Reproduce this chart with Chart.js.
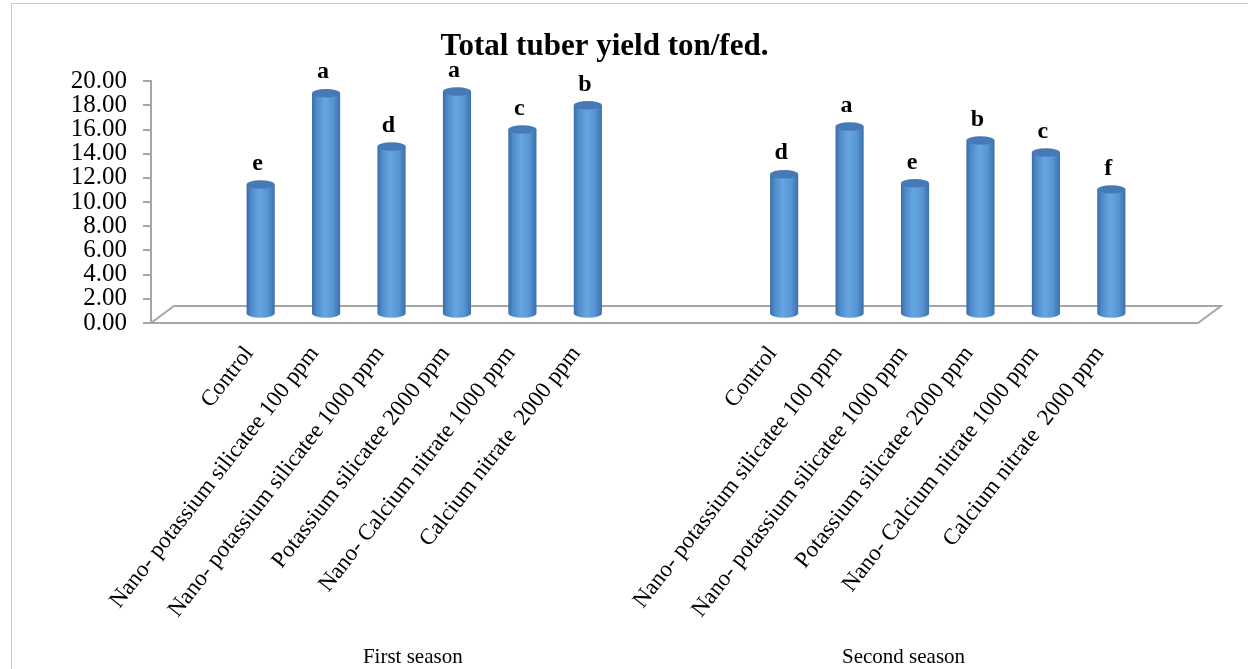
<!DOCTYPE html>
<html>
<head>
<meta charset="utf-8">
<script src="https://cdn.jsdelivr.net/npm/chart.js@4.4.1/dist/chart.umd.min.js"></script>
<style>
  html, body { margin: 0; padding: 0; background: #fff; overflow: hidden; }
  #wrap { position: relative; width: 1248px; height: 669px; }
  #frame { position: absolute; left: 11px; top: 3px; width: 1400px; height: 800px;
           border: 1px solid #c9c9c9; pointer-events: none; }
</style>
</head>
<body>
<div id="wrap">
  <canvas id="myChart" width="1248" height="669"></canvas>
  <div id="frame"></div>
</div>
<script>
// treatments, repeated for each season
const treatments = [
    'Control',
    'Nano- potassium silicatee 100 ppm',
    'Nano- potassium silicatee 1000 ppm',
    'Potassium silicatee 2000 ppm',
    'Nano- Calcium nitrate 1000 ppm',
    'Calcium nitrate  2000 ppm'
];
const seasons = ['First season', 'Second season'];

// total tuber yield (ton/fed.)
const firstSeason = [10.75, 18.3, 13.9, 18.45, 15.3, 17.3];
const secondSeason = [11.6, 15.55, 10.85, 14.4, 13.4, 10.35];

// significance letters
const firstLetters = ['e', 'a', 'd', 'a', 'c', 'b'];
const secondLetters = ['d', 'a', 'e', 'b', 'c', 'f'];

const yMax = 20;
const yStep = 2;

// category layout: blank, season 1, two blanks, season 2, blank
const labelList = ['', ...treatments, '', '', ...treatments, ''];
const dataList = [null, ...firstSeason, null, null, ...secondSeason, null];
const letterList = ['', ...firstLetters, '', '', ...secondLetters, ''];
// span of each season group on the category axis (first, last index)
const groupSpans = [[0, 7], [8, 14]];

const DEPTH_X = 23;
const DEPTH_Y = 17;
const SERIF = "'Liberation Serif', 'Times New Roman', serif";

Chart.defaults.font.family = SERIF;
Chart.defaults.color = '#000';

// 3D floor under the bars
const floorPlugin = {
    id: 'floor',
    beforeDatasetsDraw(chart) {
        const ctx = chart.ctx;
        const a = chart.chartArea;
        ctx.save();
        ctx.strokeStyle = '#a6a6a6';
        ctx.lineWidth = 2;
        ctx.beginPath();
        ctx.moveTo(a.left, a.bottom);
        ctx.lineTo(a.right, a.bottom);
        ctx.lineTo(a.right + DEPTH_X, a.bottom - DEPTH_Y);
        ctx.lineTo(a.left + DEPTH_X, a.bottom - DEPTH_Y);
        ctx.lineTo(a.left, a.bottom);
        ctx.stroke();
        ctx.restore();
    }
};

// cylinders + letters, drawn at mid depth
const cylinderPlugin = {
    id: 'cylinders',
    afterDatasetsDraw(chart) {
        const ctx = chart.ctx;
        const meta = chart.getDatasetMeta(0);
        ctx.save();
        ctx.translate(DEPTH_X / 2, -DEPTH_Y / 2);
        meta.data.forEach((bar, i) => {
            if (dataList[i] == null) return;
            const p = bar.getProps(['x', 'y', 'base', 'width'], true);
            const rx = p.width / 2;
            const ry = rx * 0.3;
            const grad = ctx.createLinearGradient(p.x - rx, 0, p.x + rx, 0);
            grad.addColorStop(0, '#3a6ba3');
            grad.addColorStop(0.15, '#4d89c9');
            grad.addColorStop(0.45, '#66a6e1');
            grad.addColorStop(0.75, '#5795d4');
            grad.addColorStop(1, '#3c70aa');
            ctx.beginPath();
            ctx.moveTo(p.x - rx, p.y);
            ctx.lineTo(p.x - rx, p.base);
            ctx.ellipse(p.x, p.base, rx, ry, 0, Math.PI, 0, true);
            ctx.lineTo(p.x + rx, p.y);
            ctx.closePath();
            ctx.fillStyle = grad;
            ctx.fill();

            ctx.beginPath();
            ctx.ellipse(p.x, p.y, rx, ry, 0, 0, Math.PI * 2);
            ctx.fillStyle = '#4679b5';
            ctx.fill();

            ctx.fillStyle = '#000';
            ctx.font = 'bold 24px ' + SERIF;
            ctx.textAlign = 'center';
            ctx.textBaseline = 'middle';
            ctx.fillText(letterList[i], p.x - 3, p.y - 21);
        });
        ctx.restore();
    }
};

// season names under the rotated labels
const groupPlugin = {
    id: 'groups',
    afterDraw(chart) {
        const ctx = chart.ctx;
        const x = chart.scales.x;
        ctx.save();
        ctx.fillStyle = '#000';
        ctx.font = '21px ' + SERIF;
        ctx.textAlign = 'center';
        ctx.textBaseline = 'middle';
        seasons.forEach((s, i) => {
            const mid = (groupSpans[i][0] + groupSpans[i][1]) / 2;
            ctx.fillText(s, x.getPixelForValue(mid), x.bottom - 12);
        });
        ctx.restore();
    }
};

const data = {
    labels: labelList,
    datasets: [{
        data: dataList,
        backgroundColor: 'rgba(0,0,0,0)',
        borderWidth: 0,
        barPercentage: 0.43,
        categoryPercentage: 1
    }]
};

const config = {
    type: 'bar',
    data: data,
    options: {
        responsive: false,
        animation: false,
        events: [],
        layout: { padding: { left: 11, top: 28, right: 50, bottom: 0 } },
        plugins: {
            legend: { display: false },
            tooltip: { enabled: false },
            title: {
                display: true,
                text: 'Total tuber yield ton/fed.',
                font: { size: 31, weight: 'bold', family: SERIF },
                color: '#000',
                padding: { top: 0, bottom: 16 }
            }
        },
        scales: {
            x: {
                grid: { display: false, drawTicks: false },
                border: { display: false },
                ticks: {
                    autoSkip: false,
                    minRotation: 52,
                    maxRotation: 52,
                    padding: 18,
                    font: { size: 23, family: SERIF },
                    color: '#000'
                },
                afterFit(scale) { scale.height = 346; }
            },
            y: {
                min: 0,
                max: yMax,
                grid: { drawOnChartArea: false, drawTicks: true, tickLength: 8, color: '#a6a6a6', lineWidth: 2 },
                border: { display: true, color: '#a6a6a6', width: 2 },
                ticks: {
                    stepSize: yStep,
                    autoSkip: false,
                    padding: 16,
                    font: { size: 25, family: SERIF },
                    color: '#000',
                    callback: v => v.toFixed(2)
                },
                afterFit(scale) { scale.width = 140; }
            }
        }
    },
    plugins: [floorPlugin, cylinderPlugin, groupPlugin]
};

new Chart(document.getElementById('myChart'), config);
</script>
</body>
</html>
